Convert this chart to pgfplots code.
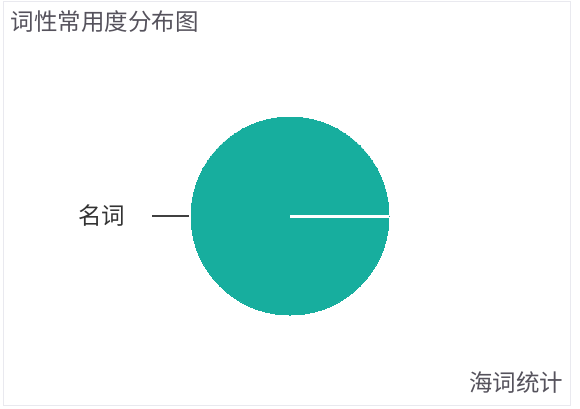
\documentclass[border=0pt]{standalone}
\usepackage{pgfplots}
\pgfplotsset{compat=1.18}
\usepackage{fontspec}
\setmainfont{Noto Sans CJK SC}
\newfontfamily\cjk{Noto Sans CJK SC}
\definecolor{pieteal}{HTML}{17AE9E}
\definecolor{titlegray}{HTML}{55525C}
\definecolor{framegray}{HTML}{E9E9EF}

% one category only: 名词 takes the whole pie
\pgfplotstableread{
x   y   share
290 192 100
}\piedata

\pgfplotsset{canvas/.style={
    at={(0,0)}, anchor=south west,
    scale only axis, width=580pt, height=408pt,
    xmin=0, xmax=580, ymin=0, ymax=408,
    hide axis, clip=false}}

\begin{document}
\begin{tikzpicture}[x=1pt,y=1pt]
  \path[use as bounding box] (0,0) rectangle (580,408);
  \begin{axis}[canvas]
    % frame
    \draw[framegray, line width=0.8pt] (axis cs:3,3) rectangle (axis cs:570,407);
    % the single slice (100%)
    \addplot[only marks, mark=*, mark size=99pt,
      mark options={fill=pieteal, draw=pieteal, line width=0pt}]
      table[x=x, y=y] {\piedata};
    % leader line
    \addplot[black!75, line width=1.1pt] coordinates {(152,192) (189,192)};
    \node[font=\cjk\fontsize{23.5}{24}\selectfont, text=black!80, anchor=east]
      at (axis cs:129,192) {名词};
    \node[font=\cjk\fontsize{23.5}{24}\selectfont, text=titlegray, anchor=west]
      at (axis cs:7,386) {词性常用度分布图};
    \node[font=\cjk\fontsize{23.5}{24}\selectfont, text=titlegray, anchor=east]
      at (axis cs:567,25) {海词统计};
  \end{axis}
  % slice edge at 0 degrees, on top of the pie
  \begin{axis}[canvas]
    \addplot[white, line width=2pt] coordinates {(290,191.5) (389,191.5)};
  \end{axis}
\end{tikzpicture}
\end{document}
